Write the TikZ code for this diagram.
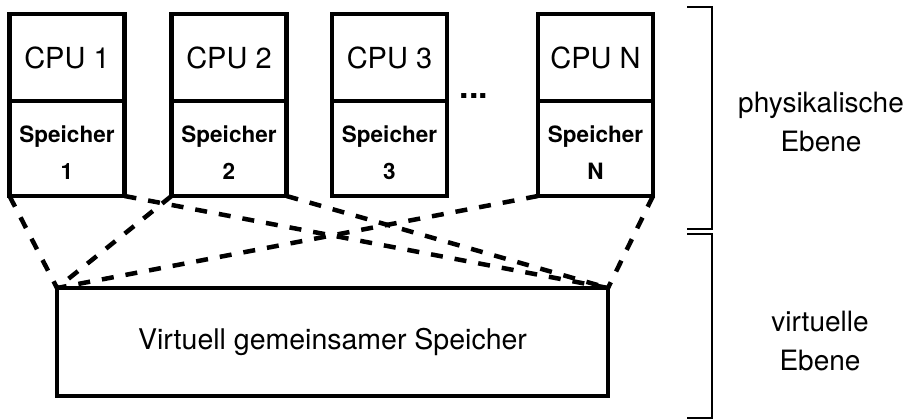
\documentclass[tikz,border=0pt]{standalone}
\usepackage{fontspec}
\setmainfont{TeX Gyre Heros}
\usepackage{tikz}
\usetikzlibrary{positioning}
\tikzset{
  cpubox/.style={draw, line width=4.5pt, outer sep=0pt, inner sep=0pt, minimum width=115pt, minimum height=87pt, font=\fontsize{29}{32}\selectfont},
  membox/.style={draw, line width=4.5pt, outer sep=0pt, inner sep=0pt, minimum width=115pt, minimum height=95pt, align=center, font=\fontsize{22.5}{37}\selectfont\bfseries},
  link/.style={line width=4.5pt, dash pattern=on 12pt off 12pt},
  bracket/.style={line width=1.3pt},
  sidelabel/.style={align=center, font=\fontsize{28}{39}\selectfont},
}

\begin{document}
\begin{tikzpicture}[x=1pt, y=-1pt]
        \useasboundingbox (0,0) rectangle (908,420);

        % Nodes
        \node[cpubox] (cpu1) at (67, 57.5) {CPU 1};
        \node[membox, below=0pt of cpu1] (mem1) {\strut Speicher\\1};
        \node[cpubox] (cpu2) at (229, 57.5) {CPU 2};
        \node[membox, below=0pt of cpu2] (mem2) {\strut Speicher\\2};
        \node[cpubox] (cpu3) at (389.5, 57.5) {CPU 3};
        \node[membox, below=0pt of cpu3] (mem3) {\strut Speicher\\3};
        \node[cpubox] (cpuN) at (595.5, 57.5) {CPU N};
        \node[membox, below=0pt of cpuN] (memN) {\strut Speicher\\N};
        \node[font=\fontsize{34}{34}\selectfont\bfseries] (dots) at (474, 96) {...};

        \node[draw, line width=4.5pt, outer sep=0pt, minimum width=551pt, minimum height=108pt, font=\fontsize{28.5}{32}\selectfont] (shared) at (332.5, 342) {Virtuell gemeinsamer Speicher};

        % Dashed links
        \draw[link] (mem1.south west) -- (shared.north west);
        \draw[link] (mem1.south east) -- (shared.north east);
        \draw[link] (mem2.south west) -- (shared.north west);
        \draw[link] (mem2.south east) -- (shared.north east);
        \draw[link] (memN.south west) -- (shared.north west);
        \draw[link] (memN.south east) -- (shared.north east);

        % Levels
        \draw[bracket] (687,7) -- (712,7) -- (712,229) -- (687,229);
        \draw[bracket] (687,234) -- (712,234) -- (712,418) -- (687,418);
        \node[sidelabel] (phys) at (821, 122) {physikalische\\Ebene};
        \node[sidelabel] (virt) at (820, 341) {virtuelle\\Ebene};
    \end{tikzpicture}
\end{document}
